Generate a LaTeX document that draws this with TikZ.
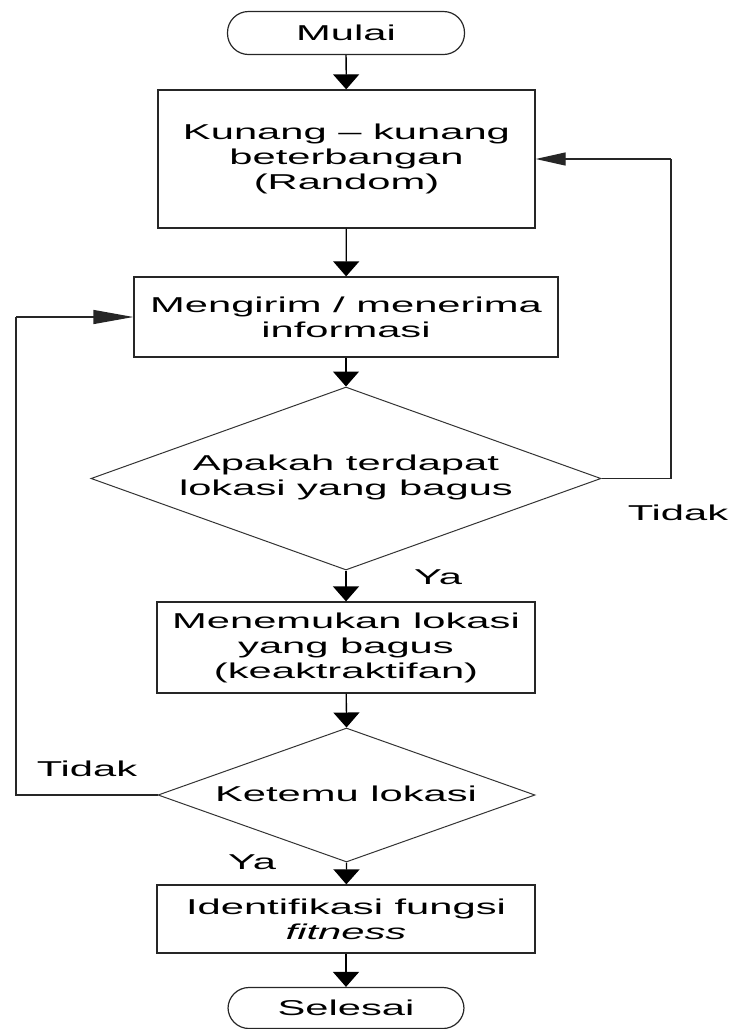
\documentclass[tikz,border=0pt]{standalone}
\usepackage{fontspec}
\setmainfont{Liberation Sans}[FakeStretch=1.94]
\usetikzlibrary{arrows.meta,shapes.geometric}
\begin{document}
\begin{tikzpicture}[x=1pt,y=-1pt,
  txt/.style={font=\fontsize{21.5}{25}\selectfont, align=center, text=black},
  box/.style={txt, draw=black!85, line width=1.3pt, inner sep=0pt},
  term/.style={txt, draw=black!85, line width=1.2pt, rounded corners=21pt, minimum width=237pt, minimum height=43pt, inner sep=0pt},
  dia/.style={draw=black!80, diamond, line width=1pt, inner sep=0pt},
  lbl/.style={txt, inner sep=0pt},
  vflow/.style={-{Triangle[length=15pt,width=26pt]}, line width=1.3pt, draw=black},
  hflow/.style={-{Triangle[length=30pt,width=13pt]}, line width=1.3pt, draw=black!85},
]
\useasboundingbox (0,0) rectangle (731,1029);

\node[term] (mulai) at (346,33) {Mulai};
\node[box, minimum width=377pt, minimum height=138pt] (b1) at (346.5,159) {Kunang -- kunang\\beterbangan\\(Random)};
\node[box, minimum width=424pt, minimum height=80pt] (b2) at (346,317) {Mengirim / menerima\\informasi};
\node[dia, minimum width=510pt, minimum height=183pt] (d1) at (346,478.5) {};
\node[lbl] (d1t) at (346,477) {Apakah terdapat\\lokasi yang bagus};
\node[box, minimum width=378pt, minimum height=91pt] (b3) at (346,647.5) {Menemukan lokasi\\yang bagus\\(keaktraktifan)};
\node[dia, minimum width=377pt, minimum height=134pt] (d2) at (346.5,795) {};
\node[lbl] (d2t) at (346,794) {Ketemu lokasi};
\node[box, minimum width=378pt, minimum height=68pt] (b4) at (346,919) {Identifikasi fungsi\\\textit{fitness}};
\node[term, minimum height=41pt, minimum width=236pt] (selesai) at (346,1008) {Selesai};

\node[lbl] (tidak1) at (678,513) {Tidak};
\node[lbl] (ya1) at (438,577) {Ya};
\node[lbl] (tidak2) at (87,769) {Tidak};
\node[lbl] (ya2) at (252,862) {Ya};

\coordinate (r1) at (671,478.5);
\coordinate (r2) at (671,159);
\coordinate (l1) at (16,795);
\coordinate (l2) at (16,317);

\draw[vflow] (mulai) -- (b1);
\draw[vflow] (b1) -- (b2);
\draw[vflow] (b2) -- (d1.north);
\draw[vflow] (d1.south) -- (b3);
\draw[vflow] (b3) -- (d2.north);
\draw[vflow] (d2.south) -- (b4);
\draw[vflow] (b4) -- (selesai);

\draw[line width=1.3pt, draw=black!85] (d1.east) -- (r1) -- (r2);
\draw[hflow] (r2) -- (b1.east);
\draw[line width=1.3pt, draw=black!85] (d2.west) -- (l1) -- (l2);
\draw[hflow, -{Triangle[length=40pt,width=14pt]}] (l2) -- (b2.west);
\end{tikzpicture}
\end{document}
